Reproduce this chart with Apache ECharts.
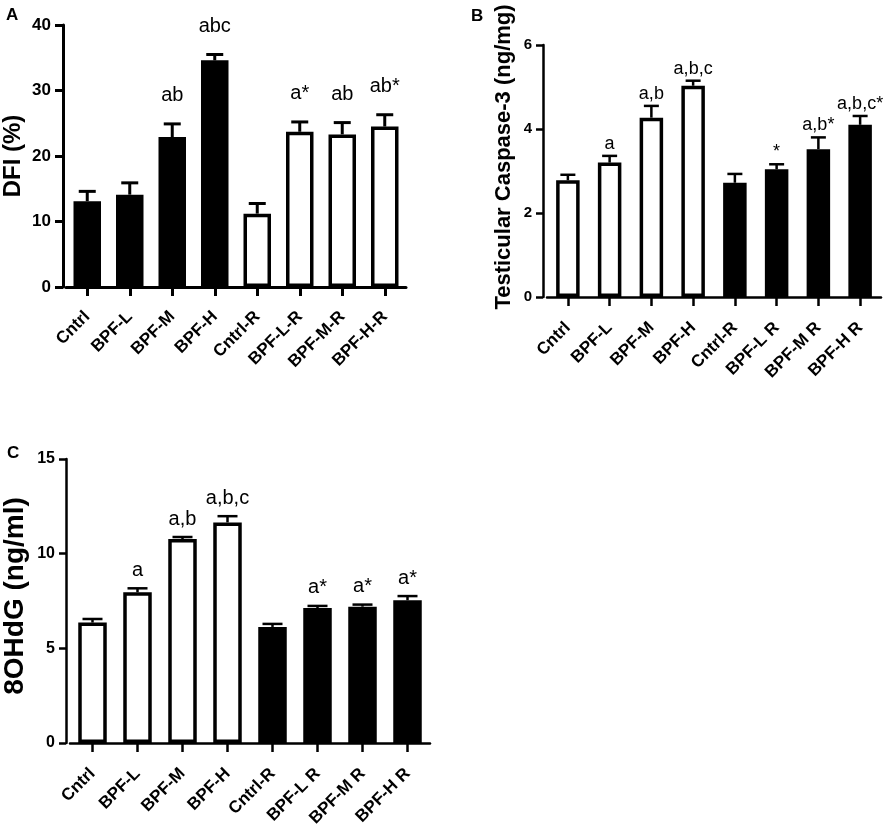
<!DOCTYPE html>
<html>
<head>
<meta charset="utf-8">
<script src="https://cdn.jsdelivr.net/npm/echarts@6/dist/echarts.min.js"></script>
<style>
html, body { margin: 0; padding: 0; background: #fff; }
#main { width: 892px; height: 838px; }
</style>
</head>
<body>
<div id="main"></div>
<script>
// groups on the x axis
var groupsA = ['Cntrl', 'BPF-L', 'BPF-M', 'BPF-H', 'Cntrl-R', 'BPF-L-R', 'BPF-M-R', 'BPF-H-R'];
var groupsBC = ['Cntrl', 'BPF-L', 'BPF-M', 'BPF-H', 'Cntrl-R', 'BPF-L R', 'BPF-M R', 'BPF-H R'];

// A - DFI (%)
var dfiMean = [13.1, 14.1, 22.9, 34.6, 11.2, 23.7, 23.3, 24.5];
var dfiSem = [1.5, 1.8, 2.0, 0.9, 1.55, 1.5, 1.8, 1.8];
var dfiMarks = ['', '', 'ab', 'abc', '', 'a*', 'ab', 'ab*'];

// B - testicular caspase-3 (ng/mg)
var caspMean = [2.78, 3.20, 4.27, 5.03, 2.72, 3.04, 3.52, 4.10];
var caspSem = [0.13, 0.16, 0.28, 0.12, 0.21, 0.12, 0.28, 0.21];
var caspMarks = ['', 'a', 'a,b', 'a,b,c', '', '*', 'a,b*', 'a,b,c*'];

// C - 8OHdG (ng/ml)
var ohdgMean = [6.36, 7.96, 10.77, 11.65, 6.13, 7.13, 7.20, 7.54];
var ohdgSem = [0.19, 0.21, 0.11, 0.33, 0.16, 0.11, 0.11, 0.22];
var ohdgMarks = ['', 'a', 'a,b', 'a,b,c', '', 'a*', 'a*', 'a*'];

var font = 'Liberation Sans, Arial, Helvetica, sans-serif';
var myChart = echarts.init(document.getElementById('main'));

function errorBars(marks, capW, lw, labelSize, labelOffset) {
    return function (params, api) {
        var k = api.value(0);
        var base = api.coord([k, api.value(1)]);
        var top = api.coord([k, api.value(2)]);
        var st = { stroke: '#000', lineWidth: lw };
        var kids = [
            { type: 'line', shape: { x1: base[0], y1: base[1], x2: base[0], y2: top[1] }, style: st },
            { type: 'line', shape: { x1: base[0] - capW / 2, y1: top[1], x2: base[0] + capW / 2, y2: top[1] }, style: st }
        ];
        var txt = marks[params.dataIndex];
        if (txt) {
            kids.push({
                type: 'text',
                style: {
                    text: txt, x: base[0], y: top[1] - labelOffset,
                    textAlign: 'center', textVerticalAlign: 'middle',
                    align: 'center', verticalAlign: 'middle',
                    font: labelSize + 'px ' + font, fill: '#000'
                }
            });
        }
        return { type: 'group', children: kids };
    };
}

var grids = [], xAxes = [], yAxes = [], series = [];

function addPanel(p) {
    var i = grids.length;
    grids.push({ left: p.left, top: p.top, width: p.width, height: p.height });
    xAxes.push({
        type: 'category', gridIndex: i, data: p.cats,
        axisLine: { show: true, lineStyle: { color: '#000', width: p.lw } },
        axisTick: { show: true, alignWithLabel: true, length: 9, lineStyle: { color: '#000', width: p.lw } },
        axisLabel: { interval: 0, rotate: 45, margin: p.xMargin, color: '#000', fontWeight: 'bold', fontSize: 17, fontFamily: font }
    });
    yAxes.push({
        type: 'value', gridIndex: i, min: 0, max: p.max, interval: p.step, offset: p.yOffset,
        name: p.title, nameLocation: 'middle', nameGap: p.nameGap,
        nameTextStyle: { color: '#000', fontWeight: 'bold', fontSize: p.titleSize, fontFamily: font, padding: [0, 0, 0, p.titleShift] },
        axisLine: { show: true, lineStyle: { color: '#000', width: p.lw } },
        axisTick: { show: true, length: p.tick, lineStyle: { color: '#000', width: p.lw } },
        axisLabel: { color: '#000', fontWeight: 'bold', fontSize: p.tickSize, fontFamily: font, margin: p.tick + 4 },
        splitLine: { show: false }
    });
    series.push({
        type: 'bar', xAxisIndex: i, yAxisIndex: i, barWidth: p.barW,
        data: p.mean.map(function (v, k) {
            var solid = (k < 4) === p.solidFirst;
            return { value: v, itemStyle: { color: solid ? '#000' : '#fff' } };
        }),
        itemStyle: { borderColor: '#000', borderWidth: 3.5 },
        silent: true
    });
    series.push({
        type: 'custom', xAxisIndex: i, yAxisIndex: i, z: 5, clip: false,
        renderItem: errorBars(p.marks, p.capW, p.lw, p.labelSize, p.labelOffset),
        encode: { x: 0, y: [1, 2] },
        data: p.mean.map(function (v, k) { return [k, v, v + p.sem[k]]; }),
        silent: true
    });
}

addPanel({
    left: 64, top: 25, width: 342, height: 262, yOffset: 3,
    cats: groupsA, mean: dfiMean, sem: dfiSem, marks: dfiMarks, solidFirst: true,
    max: 40, step: 10, title: 'DFI (%)', titleSize: 24, nameGap: 38, titleShift: 0,
    tickSize: 17, tick: 8, lw: 3, barW: 27.5, capW: 17, labelSize: 20, labelOffset: 28, xMargin: 27
});
addPanel({
    left: 547, top: 45, width: 334, height: 252, yOffset: 4,
    cats: groupsBC, mean: caspMean, sem: caspSem, marks: caspMarks, solidFirst: false,
    max: 6, step: 2, title: 'Testicular Caspase-3 (ng/mg)', titleSize: 22, nameGap: 28, titleShift: 28,
    tickSize: 15, tick: 7, lw: 2.5, barW: 23.5, capW: 15, labelSize: 18, labelOffset: 12, xMargin: 28
});
addPanel({
    left: 68, top: 459, width: 362, height: 284, yOffset: 4,
    cats: groupsBC, mean: ohdgMean, sem: ohdgSem, marks: ohdgMarks, solidFirst: false,
    max: 15, step: 5, title: '8OHdG (ng/ml)', titleSize: 28, nameGap: 37, titleShift: 10,
    tickSize: 16, tick: 7, lw: 2.5, barW: 28.5, capW: 20, labelSize: 20, labelOffset: 18, xMargin: 28
});

var option = {
    animation: false,
    backgroundColor: '#fff',
    textStyle: { fontFamily: font },
    graphic: [
        { type: 'text', left: 6, top: 7, style: { text: 'A', font: 'bold 17px ' + font, fill: '#000' } },
        { type: 'text', left: 471, top: 8, style: { text: 'B', font: 'bold 17px ' + font, fill: '#000' } },
        { type: 'text', left: 7, top: 445, style: { text: 'C', font: 'bold 17px ' + font, fill: '#000' } }
    ],
    grid: grids,
    xAxis: xAxes,
    yAxis: yAxes,
    series: series
};
myChart.setOption(option);
</script>
</body>
</html>
